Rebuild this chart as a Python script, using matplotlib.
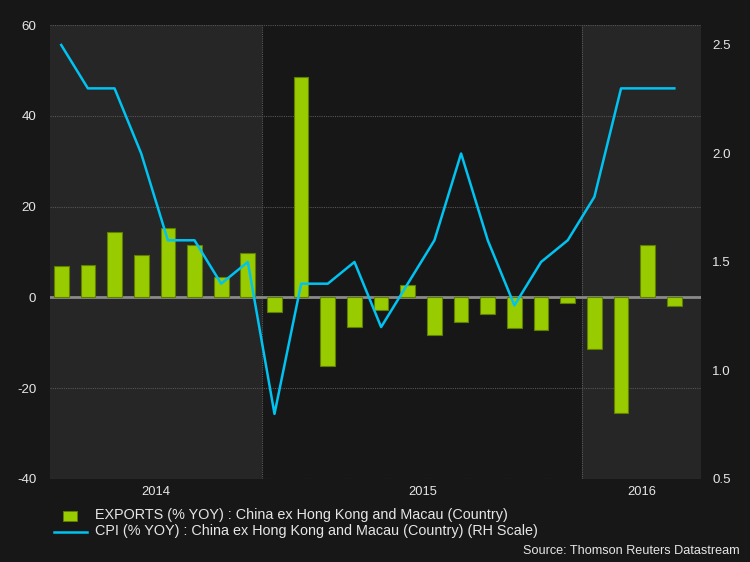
import matplotlib
matplotlib.use("Agg")
import matplotlib.pyplot as plt
import numpy as np

plt.rcParams['font.family'] = ['Liberation Sans', 'DejaVu Sans']
plt.rcParams['axes.unicode_minus'] = False

# monthly data, May 2014 - Apr 2016
months = ['May14', 'Jun14', 'Jul14', 'Aug14', 'Sep14', 'Oct14', 'Nov14', 'Dec14',
          'Jan15', 'Feb15', 'Mar15', 'Apr15', 'May15', 'Jun15', 'Jul15', 'Aug15',
          'Sep15', 'Oct15', 'Nov15', 'Dec15', 'Jan16', 'Feb16', 'Mar16', 'Apr16']
exports = [7.0, 7.2, 14.5, 9.3, 15.2, 11.5, 4.6, 9.7,
           -3.2, 48.5, -15.2, -6.6, -2.8, 2.8, -8.3, -5.4,
           -3.7, -6.8, -7.1, -1.3, -11.3, -25.4, 11.5, -1.9]
cpi = [2.5, 2.3, 2.3, 2.0, 1.6, 1.6, 1.4, 1.5,
       0.8, 1.4, 1.4, 1.5, 1.2, 1.4, 1.6, 2.0,
       1.6, 1.3, 1.5, 1.6, 1.8, 2.3, 2.3, 2.3]
years = ['2014', '2015', '2016']

bg = '#171717'
shade = '#262626'
txt = '#e6e6e6'
green = '#99cc00'
blue = '#00c3f2'

x = np.arange(len(months))
x0, x1 = -0.42, 24.0
bounds = [x0, 7.55, 19.55, x1]

fig = plt.figure(figsize=(7.5, 5.62), dpi=100, facecolor=bg)
ax = fig.add_axes([0.0667, 0.1477, 0.868, 0.8078])
ax.set_facecolor(bg)

# shaded years
ax.axvspan(bounds[0], bounds[1], color=shade, zorder=0, lw=0)
ax.axvspan(bounds[2], bounds[3], color=shade, zorder=0, lw=0)
for b in bounds[1:3]:
    ax.axvline(b, color='#5a5a5a', ls=(0, (1, 1)), lw=0.8, zorder=1)

ax.bar(x, exports, width=0.55, color=green, edgecolor='#5f7f00', lw=0.8, zorder=3)
ax.axhline(0, color='#8a8a8a', lw=2, zorder=2)

ax.set_xlim(x0, x1)
ax.set_ylim(-40, 60)
ax.set_yticks([-40, -20, 0, 20, 40, 60])
for v in [-40, -20, 20, 40, 60]:
    ax.axhline(v, color='#555555', ls=(0, (1, 1)), lw=0.8, zorder=1)

centers = [(bounds[i] + bounds[i + 1]) / 2 for i in range(3)]
ax.set_xticks(centers)
ax.set_xticklabels(years)
ax.tick_params(axis='x', colors=txt, length=0, labelsize=9.3, pad=5)
ax.tick_params(axis='y', colors=txt, length=0, labelsize=9.6, pad=10)
for s in ax.spines.values():
    s.set_visible(False)

ax2 = ax.twinx()
ax2.plot(x, cpi, color=blue, lw=1.8, zorder=4)
ax2.set_ylim(0.5, 2.592)
ax2.set_yticks([0.5, 1.0, 1.5, 2.0, 2.5])
ax2.set_yticklabels(['0.5', '1.0', '1.5', '2.0', '2.5'])
ax2.tick_params(colors=txt, length=0, labelsize=9.6, pad=8)
for s in ax2.spines.values():
    s.set_visible(False)

# legend
fig.patches.append(plt.Rectangle((63 / 750, 1 - 521 / 562), 14 / 750, 10 / 562,
                                 transform=fig.transFigure, color=green, ec='#5f7f00', lw=0.6))
fig.lines.append(plt.Line2D([54 / 750, 87 / 750], [1 - 532 / 562, 1 - 532 / 562],
                            transform=fig.transFigure, color=blue, lw=1.8))
fig.text(95 / 750, 1 - 515 / 562, 'EXPORTS (% YOY) : China ex Hong Kong and Macau (Country)',
         color=txt, fontsize=10.4, va='center')
fig.text(95 / 750, 1 - 531 / 562, 'CPI (% YOY) : China ex Hong Kong and Macau (Country) (RH Scale)',
         color=txt, fontsize=10.4, va='center')
fig.text(740 / 750, 1 - 551 / 562, 'Source: Thomson Reuters Datastream',
         color=txt, fontsize=9.1, ha='right', va='center')

fig.savefig('out.png', dpi=100, facecolor=bg)
